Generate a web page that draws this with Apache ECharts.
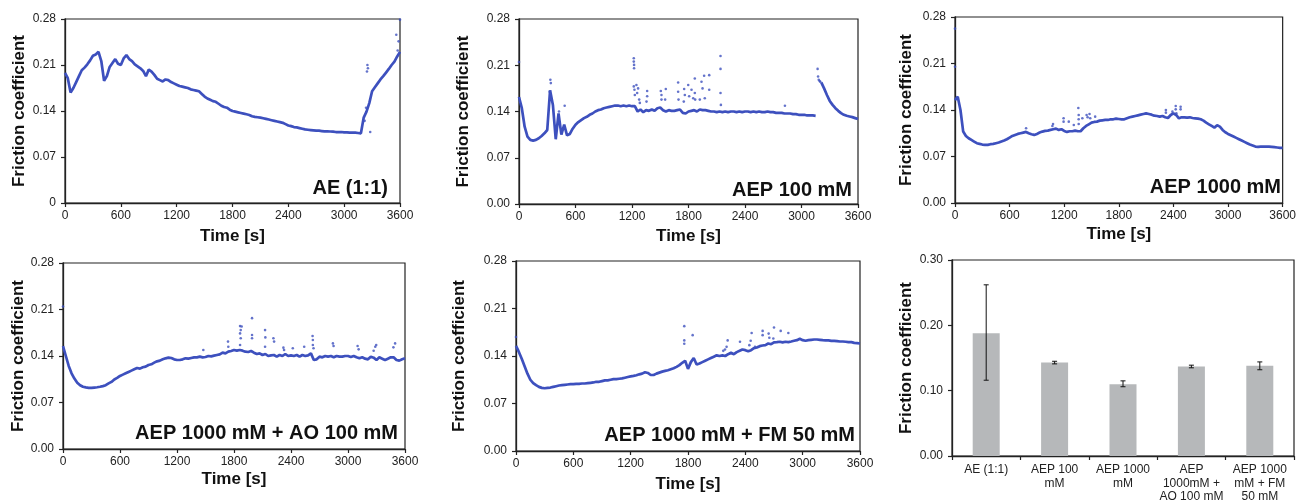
<!DOCTYPE html>
<html>
<head>
<meta charset="utf-8">
<script src="https://cdn.jsdelivr.net/npm/echarts@6/dist/echarts.min.js"></script>
<style>
html,body{margin:0;padding:0;background:#fff;}
#c{width:1299px;height:504px;}
</style>
</head>
<body>
<div id="c"></div>
<script>
// ---- data (friction coefficient sampled every 30 s, 0..3600 s) ----
const STEP = 30;
const TIME_TICKS = [0, 600, 1200, 1800, 2400, 3000, 3600];

const AE = [0.198,0.190,0.168,0.175,0.184,0.193,0.202,0.206,0.211,0.217,0.224,0.226,0.230,0.216,0.186,0.193,0.207,0.213,0.219,0.212,
0.210,0.220,0.225,0.219,0.216,0.211,0.208,0.205,0.201,0.193,0.203,0.200,0.195,0.189,0.187,0.185,0.188,0.187,0.184,0.182,
0.180,0.178,0.177,0.176,0.175,0.173,0.172,0.171,0.170,0.166,0.162,0.159,0.157,0.155,0.154,0.151,0.148,0.146,0.145,0.142,
0.140,0.139,0.138,0.137,0.136,0.135,0.134,0.132,0.131,0.1305,0.130,0.129,0.128,0.127,0.126,0.125,0.124,0.123,0.122,0.120,
0.118,0.117,0.1155,0.115,0.114,0.113,0.112,0.1115,0.111,0.1105,0.110,0.110,0.1095,0.109,0.109,0.1088,0.1085,0.108,0.108,0.108,
0.1075,0.1075,0.107,0.107,0.107,0.1065,0.106,0.130,0.139,0.152,0.170,0.176,0.182,0.188,0.193,0.1985,0.204,0.210,0.215,0.223,
0.230];
const AE_OUT = [[3245,0.200],[3250,0.210],[3255,0.205],[3280,0.108],[3560,0.256],[3585,0.246],[3575,0.232],[3600,0.279],[3220,0.125],[3235,0.145]];

const AEP100 = [0.162,0.145,0.117,0.102,0.097,0.096,0.097,0.0995,0.103,0.107,0.112,0.172,0.150,0.098,0.137,0.105,0.120,0.104,0.106,0.114,
0.120,0.124,0.127,0.130,0.132,0.135,0.137,0.140,0.142,0.143,0.145,0.146,0.147,0.148,0.149,0.149,0.148,0.149,0.148,0.149,
0.148,0.148,0.140,0.143,0.139,0.142,0.141,0.143,0.141,0.145,0.146,0.142,0.140,0.142,0.141,0.141,0.142,0.143,0.138,0.137,
0.140,0.141,0.142,0.140,0.143,0.142,0.142,0.141,0.140,0.140,0.139,0.140,0.139,0.140,0.139,0.140,0.140,0.139,0.140,0.139,
0.140,0.140,0.139,0.140,0.139,0.140,0.139,0.139,0.140,0.139,0.139,0.138,0.138,0.138,0.137,0.137,0.137,0.136,0.136,0.135,
0.135,0.135,0.134,0.134,0.134,0.1335,null,0.184,0.175,0.165,0.156,0.150,0.145,0.141,0.1375,0.135,0.1335,0.1325,0.1315,0.130,
0.1285];
const AEP100_OUT = [[0,0.215],[333,0.188],[338,0.183],[326,0.170],[485,0.1486],[425,0.140],
[1219,0.2206],[1219,0.2155],[1222,0.2105],[1222,0.2055],[1219,0.178],[1226,0.173],[1230,0.165],[1247,0.180],[1265,0.175],[1255,0.168],[1276,0.158],[1283,0.153],
[1361,0.171],[1361,0.163],[1354,0.155],[1506,0.171],[1513,0.165],[1513,0.158],[1559,0.174],[1552,0.158],
[1690,0.184],[1690,0.170],[1694,0.158],[1754,0.174],[1761,0.165],[1750,0.155],[1797,0.180],[1807,0.163],
[1832,0.173],[1850,0.160],[1867,0.190],[1867,0.168],[1871,0.158],[1938,0.185],[1949,0.175],[1920,0.158],
[1966,0.194],[1973,0.160],[2020,0.195],[2020,0.173],[2140,0.224],[2140,0.2045],[2140,0.168],[2144,0.150],
[2824,0.1486],[3171,0.2045],[3176,0.193],[3183,0.188],[3192,0.186],[3200,0.185]];

const AEP1000 = [0.155,0.160,0.140,0.1075,0.101,0.0975,0.095,0.0925,0.090,0.089,0.088,0.0875,0.0875,0.0885,0.089,0.090,0.091,0.0925,0.094,0.096,
0.0985,0.101,0.1025,0.104,0.105,0.106,0.107,0.105,0.1035,0.1025,0.104,0.106,0.1075,0.1085,0.109,0.110,0.111,0.112,0.110,0.111,
0.1085,0.107,0.108,0.108,0.109,0.108,0.108,0.1125,0.116,0.1185,0.121,0.122,0.1225,0.124,0.1245,0.125,0.125,0.126,0.126,0.127,
0.1265,0.126,0.126,0.1275,0.129,0.130,0.131,0.132,0.133,0.134,0.135,0.134,0.133,0.1315,0.131,0.130,0.131,0.129,0.128,0.1325,
0.135,0.1325,0.1275,0.129,0.129,0.1285,0.129,0.128,0.1275,0.127,0.126,0.124,0.121,0.1185,0.116,0.1135,0.117,0.115,0.110,0.1065,
0.104,0.102,0.100,0.098,0.096,0.094,0.092,0.090,0.088,0.0865,0.085,0.0845,0.085,0.085,0.085,0.085,0.0845,0.084,0.0835,0.083,
0.083];
const AEP1000_OUT = [[0,0.2625],[0,0.205],[781,0.1125],[1077,0.119],[1070,0.116],[1193,0.1275],[1193,0.1225],[1250,0.1225],[1305,0.1175],
[1355,0.143],[1359,0.1325],[1359,0.126],[1359,0.119],[1399,0.1275],[1446,0.1325],[1457,0.129],[1478,0.134],[1486,0.1275],[1540,0.130],
[2317,0.140],[2317,0.136],[2389,0.1375],[2425,0.146],[2425,0.141],[2432,0.135],[2479,0.145],[2479,0.141]];

const AO = [0.155,0.140,0.125,0.114,0.106,0.0997,0.096,0.0937,0.0927,0.092,0.092,0.0925,0.093,0.0937,0.0947,0.096,0.0987,0.101,0.1047,0.107,
0.110,0.112,0.114,0.116,0.118,0.120,0.122,0.121,0.123,0.124,0.1265,0.1275,0.130,0.132,0.133,0.135,0.1365,0.1375,0.137,0.135,
0.134,0.134,0.135,0.1365,0.136,0.137,0.138,0.138,0.139,0.138,0.1385,0.140,0.1395,0.1405,0.1415,0.1425,0.145,0.144,0.1465,0.1475,
0.149,0.148,0.149,0.148,0.1465,0.146,0.1475,0.145,0.143,0.144,0.1415,0.143,0.140,0.141,0.1415,0.139,0.1415,0.140,0.143,0.140,
0.141,0.140,0.1415,0.139,0.1415,0.140,0.141,0.144,0.134,0.135,0.139,0.138,0.140,0.139,0.140,0.138,0.140,0.139,0.139,0.140,
0.140,0.1385,0.140,0.138,0.1365,0.138,0.136,0.135,0.139,0.1375,0.134,0.138,0.136,0.134,0.136,0.138,0.138,0.134,0.133,0.135,
0.1365];
const AO_OUT = [[0,0.2145],[1477,0.149],[1737,0.1617],[1740,0.154],[1864,0.185],[1871,0.179],[1864,0.174],[1881,0.1845],[1871,0.1667],[1864,0.1566],
[1990,0.197],[1990,0.1717],[1990,0.1667],[2127,0.179],[2130,0.168],[2127,0.154],[2215,0.1667],[2222,0.1617],[2320,0.1526],[2327,0.149],
[2419,0.1516],[2539,0.154],[2627,0.170],[2630,0.164],[2630,0.1566],[2637,0.1516],[2841,0.159],[2848,0.155],[3101,0.155],[3112,0.150],
[3287,0.154],[3297,0.1566],[3270,0.148],[3496,0.159],[3478,0.153]];

const FM = [0.155,0.146,0.136,0.125,0.114,0.105,0.100,0.097,0.0945,0.093,0.0925,0.093,0.0935,0.0945,0.0955,0.0965,0.097,0.0975,0.098,0.0985,
0.0985,0.099,0.099,0.0995,0.0995,0.100,0.1005,0.101,0.102,0.102,0.103,0.104,0.104,0.105,0.106,0.106,0.1065,0.107,0.108,0.109,
0.110,0.1107,0.1117,0.113,0.114,0.116,0.115,0.112,0.112,0.114,0.1155,0.117,0.118,0.119,0.1205,0.122,0.124,0.1265,0.130,0.133,
0.121,0.131,0.137,0.1275,0.129,0.131,0.133,0.135,0.137,0.139,0.141,0.140,0.141,0.140,0.1427,0.1447,0.1427,0.1457,0.1476,0.1496,
0.1486,0.147,0.1486,0.1515,0.1525,0.1545,0.1555,0.156,0.1584,0.1574,0.160,0.1604,0.161,0.160,0.161,0.1605,0.1614,0.1624,0.1633,0.1653,
0.1633,0.1624,0.1633,0.1638,0.1643,0.1643,0.1638,0.1633,0.163,0.163,0.1624,0.1624,0.162,0.1614,0.1614,0.161,0.1604,0.1604,0.1594,0.159,
0.1584];
const FM_OUT = [[0,0.168],[1761,0.184],[1761,0.163],[1761,0.158],[1849,0.1707],[2187,0.1496],[2204,0.1535],[2169,0.1476],[2215,0.163],
[2344,0.161],[2466,0.174],[2456,0.1624],[2442,0.156],[2501,0.1535],[2581,0.177],[2581,0.1707],[2644,0.173],[2651,0.167],
[2700,0.182],[2693,0.1658],[2770,0.177],[2850,0.174]];

const BAR_CATS = ['AE (1:1)', 'AEP 100\nmM', 'AEP 1000\nmM', 'AEP\n1000mM +\nAO 100 mM', 'AEP 1000\nmM + FM\n50 mM'];
const BAR_MEAN = [0.188, 0.143, 0.110, 0.137, 0.138];
const BAR_LOW  = [0.116, 0.141, 0.106, 0.135, 0.132];
const BAR_HIGH = [0.262, 0.145, 0.115, 0.139, 0.144];

const PANEL_LABELS = ['AE (1:1)', 'AEP 100 mM', 'AEP 1000 mM', 'AEP 1000 mM + AO 100 mM', 'AEP 1000 mM + FM 50 mM'];

[AE, AEP100, AEP1000, AO, FM].forEach((a, k) => { if (a.length !== 121) throw new Error('array ' + k + ' has ' + a.length); });

// ---- layout / style ----
const FONT = 'Liberation Sans, Arial, Helvetica, sans-serif';
const BLUE = '#3d50be';
const AXIS = '#222';
const grids = [
  {left: 65, top: 19, width: 335, height: 184},
  {left: 519, top: 19, width: 339, height: 185},
  {left: 955, top: 17, width: 332, height: 186},
  {left: 63, top: 263, width: 342, height: 186},
  {left: 516, top: 261, width: 344, height: 190},
  {left: 952, top: 260, width: 342, height: 196}
];
const yNameGap = [37, 47, 40, 36, 48, 37];
const xNameGap = [25, 24, 23, 22, 25];
const labelPos = [[388, 188], [852, 190], [1281, 187], [398, 433], [855, 435]];

const axisLineStyle = {show: true, lineStyle: {color: AXIS, width: 1.3}};
const tickStyle = {show: true, length: 4, lineStyle: {color: AXIS, width: 1.2}};
const labelStyle = {color: '#222', fontSize: 12, fontFamily: FONT};
const nameStyle = {color: '#111', fontSize: 17, fontWeight: 'bold', fontFamily: FONT};

const xAxes = [], yAxes = [], series = [];
const curves = [AE, AEP100, AEP1000, AO, FM];
const outs = [AE_OUT, AEP100_OUT, AEP1000_OUT, AO_OUT, FM_OUT];

for (let k = 0; k < 5; k++) {
  xAxes.push({
    gridIndex: k, type: 'value', min: TIME_TICKS[0], max: TIME_TICKS[TIME_TICKS.length - 1], interval: 600,
    name: 'Time [s]', nameLocation: 'middle', nameGap: xNameGap[k], nameTextStyle: nameStyle,
    axisLine: axisLineStyle, axisTick: tickStyle, splitLine: {show: false},
    axisLabel: Object.assign({margin: 7, formatter: (v) => String(v)}, labelStyle)
  });
  yAxes.push({
    gridIndex: k, type: 'value', min: 0, max: 0.28, interval: 0.07,
    name: 'Friction coefficient', nameLocation: 'middle', nameGap: yNameGap[k], nameTextStyle: nameStyle,
    axisLine: axisLineStyle, axisTick: tickStyle, splitLine: {show: false},
    axisLabel: Object.assign({margin: 9, formatter: (v) => (k === 0 && v === 0) ? '0' : v.toFixed(2)}, labelStyle)
  });
  series.push({
    type: 'line', xAxisIndex: k, yAxisIndex: k, showSymbol: false, connectNulls: false,
    data: curves[k].map((v, i) => [i * STEP, v]),
    lineStyle: {color: BLUE, width: 2.7}, itemStyle: {color: BLUE}, animation: false, z: 3
  });
  series.push({
    type: 'scatter', xAxisIndex: k, yAxisIndex: k, symbolSize: 2.6,
    data: outs[k], itemStyle: {color: BLUE}, animation: false, z: 3
  });
}

// bar panel
xAxes.push({
  gridIndex: 5, type: 'category', data: BAR_CATS,
  axisLine: axisLineStyle, axisTick: Object.assign({alignWithLabel: false}, tickStyle), splitLine: {show: false},
  axisLabel: Object.assign({margin: 7, interval: 0, lineHeight: 13.5, align: 'center'}, labelStyle)
});
yAxes.push({
  gridIndex: 5, type: 'value', min: 0, max: 0.30, interval: 0.10,
  name: 'Friction coefficient', nameLocation: 'middle', nameGap: yNameGap[5], nameTextStyle: nameStyle,
  axisLine: axisLineStyle, axisTick: tickStyle, splitLine: {show: false},
  axisLabel: Object.assign({margin: 9, formatter: (v) => v.toFixed(2)}, labelStyle)
});
series.push({
  type: 'bar', xAxisIndex: 5, yAxisIndex: 5, data: BAR_MEAN, barWidth: 27,
  itemStyle: {color: '#b6b8ba'}, animation: false
});
series.push({
  type: 'custom', xAxisIndex: 5, yAxisIndex: 5, animation: false, z: 5,
  data: BAR_MEAN.map((m, i) => [i, BAR_LOW[i], BAR_HIGH[i]]),
  encode: {x: 0, y: [1, 2]},
  renderItem: function (params, api) {
    const i = api.value(0);
    const lo = api.coord([i, api.value(1)]);
    const hi = api.coord([i, api.value(2)]);
    const w = 2.5;
    const st = {stroke: '#111', lineWidth: 1};
    return {type: 'group', children: [
      {type: 'line', shape: {x1: lo[0], y1: lo[1], x2: hi[0], y2: hi[1]}, style: st},
      {type: 'line', shape: {x1: lo[0] - w, y1: lo[1], x2: lo[0] + w, y2: lo[1]}, style: st},
      {type: 'line', shape: {x1: hi[0] - w, y1: hi[1], x2: hi[0] + w, y2: hi[1]}, style: st}
    ]};
  }
});

const graphic = PANEL_LABELS.map((t, k) => ({
  type: 'text', x: labelPos[k][0], y: labelPos[k][1], z: 10,
  style: {text: t, font: 'bold 20px ' + FONT, fill: '#111', textAlign: 'right', textVerticalAlign: 'middle', align: 'right', verticalAlign: 'middle'}
}));

const chart = echarts.init(document.getElementById('c'), null, {renderer: 'canvas'});
chart.setOption({
  backgroundColor: '#fff',
  animation: false,
  grid: grids.map(g => Object.assign({show: true, borderColor: AXIS, borderWidth: 1.2, backgroundColor: 'transparent'}, g)),
  xAxis: xAxes,
  yAxis: yAxes,
  series: series,
  graphic: graphic
});
</script>
</body>
</html>
